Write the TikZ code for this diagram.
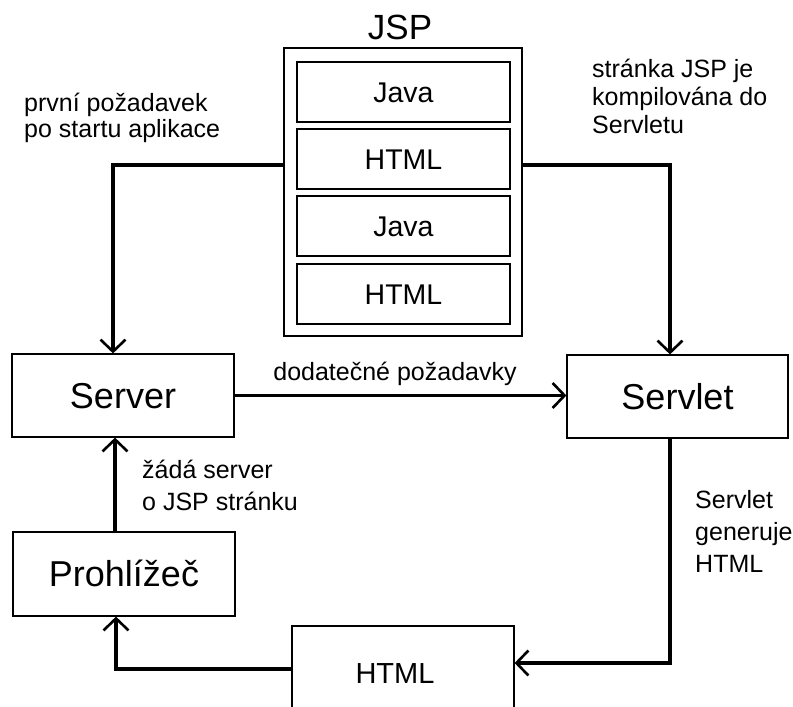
\documentclass[tikz,border=0pt]{standalone}
\usepackage{fontspec}
\setmainfont{Liberation Sans}
\usetikzlibrary{arrows.meta}
\begin{document}
\begin{tikzpicture}[x=1pt,y=-1pt,
  box/.style={draw, line width=1.2pt, inner sep=0pt, text depth=0pt},
  bigbox/.style={box, minimum width=222pt, minimum height=83pt, text height=25.8pt, font=\fontsize{36}{40}\selectfont},
  rowbox/.style={box, minimum width=213pt, minimum height=60pt, text height=20.4pt, font=\fontsize{28.5}{32}\selectfont},
  flow/.style={line width=3.5pt, -{Straight Barb[length=12pt,width=25pt,line width=2.6pt]}},
  lbl/.style={anchor=base west, inner sep=0pt, font=\fontsize{25}{30}\selectfont}]
\useasboundingbox (0,0) rectangle (793,707);
\clip (0,0) rectangle (793,707);

% JSP block
\node[box, minimum width=238pt, minimum height=288pt] (jsp) at (403,192) {};
\node[anchor=base, inner sep=0pt, font=\fontsize{35}{40}\selectfont] (jsptitle) at (400,39) {JSP};
\node[rowbox] (java1) at (403.5,92) {Java};
\node[rowbox] (html1) at (403.5,159) {HTML};
\node[rowbox] (java2) at (403.5,226) {Java};
\node[rowbox] (html2) at (403.5,294) {HTML};

% main boxes
\node[bigbox] (server) at (123,395.5) {Server};
\node[bigbox, minimum width=221pt] (servlet) at (677.5,396.5) {Servlet};
\node[bigbox, minimum height=84pt] (prohl) at (124,574) {Prohlížeč};
\node[box, minimum width=222pt, minimum height=94pt, text height=20.8pt, font=\fontsize{29}{34}\selectfont] (html) at (403,673) {\hspace*{-16pt}HTML};

% connectors
\draw[flow] ([yshift=27pt]jsp.west) -| ([xshift=-10pt]server.north);
\draw[flow] ([yshift=27pt]jsp.east) -| ([xshift=-7.5pt]servlet.north);
\draw[flow] (server.east) -- (server.east -| servlet.west);
\draw[flow] ([xshift=-9pt]prohl.north) -- ([xshift=-9pt]prohl.north |- server.south);
\draw[flow] ([xshift=-7.5pt]servlet.south) |- ([yshift=10pt]html.east);
\draw[flow] ([yshift=4pt]html.west) -| ([xshift=-8pt]prohl.south);

% labels
\node[lbl] (l1a) at (24,111) {první požadavek};
\node[lbl] (l1b) at (24,137.5) {po startu aplikace};
\node[lbl] (l2a) at (592,77) {stránka JSP je};
\node[lbl] (l2b) at (592,105) {kompilována do};
\node[lbl] (l2c) at (592,133) {Servletu};
\node[lbl, anchor=base] (l3) at (395,380) {dodatečné požadavky};
\node[lbl] (l4a) at (142,478) {žádá server};
\node[lbl] (l4b) at (142,510) {o JSP stránku};
\node[lbl] (l5a) at (695,508) {Servlet};
\node[lbl] (l5b) at (695,540) {generuje};
\node[lbl] (l5c) at (695,572) {HTML};
\end{tikzpicture}
\end{document}
